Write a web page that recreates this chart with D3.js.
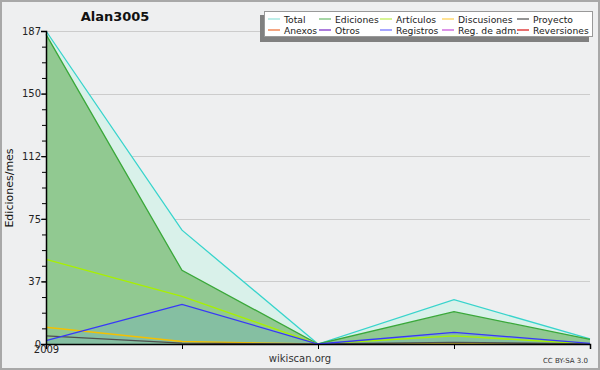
<!DOCTYPE html>
<html>
<head>
<meta charset="utf-8">
<script src="https://cdn.jsdelivr.net/npm/d3@7"></script>
<style>
  body { margin: 0; background: #fff; }
  text { font-family: "DejaVu Sans", sans-serif; }
</style>
</head>
<body>
<div id="main"></div>
<script>
// monthly points, first one is 2009
var months = [0, 1, 2, 3, 4];
var total = [187, 68, 0, 26.5, 3];
var ediciones = [185, 44, 0, 19.3, 2.8];
var articulos = [50.5, 28.5, 0, 4.8, 0];
var discusiones = [10, 1.5, 0, 0, 0];
var proyecto = [4.8, 0.5, 0, 1, 0];
var registros = [2, 23.7, 0, 7, 0.4];
var y_ticks = [0, 37, 75, 112, 150, 187];
var legend_names = ["Total", "Ediciones", "Artículos", "Discusiones", "Proyecto",
                    "Anexos", "Otros", "Registros", "Reg. de adm.", "Reversiones"];
var legend_colors = ["#a8e8e2", "#88c888", "#c8f070", "#ffd870", "#707070",
                     "#f08858", "#9050d0", "#8888ff", "#d070e0", "#e04040"];

var W = 600, H = 370;
var pl = 46, pr = 590, pt = 31, pb = 344;
var y_max = 187;

var svg = d3.select("#main").append("svg").attr("width", W).attr("height", H);

svg.append("rect").attr("x", 1).attr("y", 1).attr("width", W - 2).attr("height", H - 2)
   .attr("fill", "#eeeff0").attr("stroke", "#a8a8a8").attr("stroke-width", 2);

var x = d3.scaleLinear().domain([0, 4]).range([pl, pr]);
var y = d3.scaleLinear().domain([0, y_max]).range([pb, pt]);

// grid at fifths of the max
var grid_vals = d3.range(1, 6).map(function(i) { return i * y_max / 5; });
svg.append("g").selectAll("line").data(grid_vals).enter().append("line")
   .attr("x1", pl).attr("x2", pr)
   .attr("y1", function(d) { return Math.round(y(d)) + 0.5; })
   .attr("y2", function(d) { return Math.round(y(d)) + 0.5; })
   .attr("stroke", "#cccccc").attr("stroke-width", 1);

function area_of(vals) {
   return d3.area().x(function(d, i) { return x(months[i]); })
      .y0(pb).y1(function(d) { return y(d); })(vals);
}
function line_of(vals) {
   return d3.line().x(function(d, i) { return x(months[i]); })
      .y(function(d) { return y(d); })(vals);
}

svg.append("path").attr("d", area_of(total)).attr("fill", "#d9f1ea");
svg.append("path").attr("d", area_of(ediciones)).attr("fill", "#91c991");
svg.append("path").attr("d", area_of(registros)).attr("fill", "#85bfa2");

var series = [
   [total, "#38d4cc"], [ediciones, "#3aa83a"], [articulos, "#a8f000"],
   [discusiones, "#f4c000"], [proyecto, "#505050"], [registros, "#3838f8"]
];
series.forEach(function(s) {
   svg.append("path").attr("d", line_of(s[0])).attr("fill", "none")
      .attr("stroke", s[1]).attr("stroke-width", 1.3);
});

// axes
var minor = d3.range(0, 21).map(function(i) { return i * y_max / 20; });
svg.append("g").attr("transform", "translate(" + pl + ",0)")
   .call(d3.axisLeft(y).tickValues(minor).tickSize(4).tickFormat(""))
   .call(function(g) { g.select(".domain").remove(); });
var major = d3.range(0, 6).map(function(i) { return i * y_max / 5; });
var yg = svg.append("g").attr("transform", "translate(" + pl + ",0)")
   .call(d3.axisLeft(y).tickValues(major).tickSize(5)
      .tickFormat(function(d, i) { return y_ticks[i]; }));
yg.selectAll("text").attr("font-size", 10).attr("fill", "#222").attr("x", -5);
yg.select(".domain").attr("stroke", "#000").attr("stroke-width", 1.5);

var xg = svg.append("g").attr("transform", "translate(0," + pb + ")")
   .call(d3.axisBottom(x).tickValues(months).tickSize(5).tickFormat(function(d) { return d === 0 ? "2009" : ""; }));
xg.selectAll("text").attr("font-size", 10).attr("fill", "#222").attr("dy", "0.1em");
xg.select(".domain").attr("stroke", "#000").attr("stroke-width", 1.5);

// texts
svg.append("text").attr("x", 115).attr("y", 21).attr("text-anchor", "middle")
   .attr("font-size", 13).attr("font-weight", "bold").attr("fill", "#111").text("Alan3005");
svg.append("text").attr("transform", "translate(13,188) rotate(-90)").attr("text-anchor", "middle")
   .attr("font-size", 11).attr("fill", "#111").text("Ediciones/mes");
svg.append("text").attr("x", 300).attr("y", 362).attr("text-anchor", "middle")
   .attr("font-size", 10).attr("fill", "#333").text("wikiscan.org");
svg.append("text").attr("x", 588).attr("y", 363).attr("text-anchor", "end")
   .attr("font-size", 7).attr("fill", "#333").text("CC BY-SA 3.0");

// legend
var lg = svg.append("g");
lg.append("rect").attr("x", 260).attr("y", 15).attr("width", 329).attr("height", 27).attr("fill", "#808080");
lg.append("rect").attr("x", 264.5).attr("y", 11.5).attr("width", 328).attr("height", 25)
   .attr("fill", "#fff").attr("stroke", "#999");
var col_x = [268, 319, 380, 442, 517];
legend_names.forEach(function(n, i) {
   var cx = col_x[i % 5], cy = i < 5 ? 19 : 30;
   lg.append("line").attr("x1", cx).attr("x2", cx + 12).attr("y1", cy).attr("y2", cy)
      .attr("stroke", legend_colors[i]).attr("stroke-width", 1.5);
   lg.append("text").attr("x", cx + 16).attr("y", cy + 4).attr("font-size", 9.2)
      .attr("fill", "#222").text(n);
});
</script>
</body>
</html>
